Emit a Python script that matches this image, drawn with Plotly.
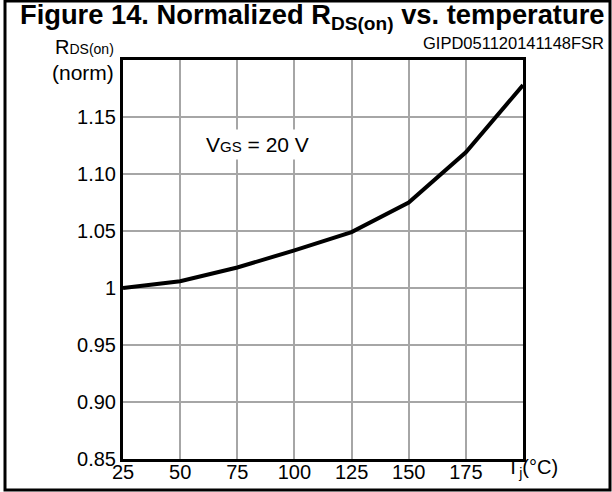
import plotly.graph_objects as go

# Data
temps = [25, 50, 75, 100, 125, 150, 175, 200]
rds_norm = [1.000, 1.006, 1.018, 1.033, 1.049, 1.075, 1.119, 1.178]

x_tick_vals = [25, 50, 75, 100, 125, 150, 175]
x_tick_text = ["25", "50", "75", "100", "125", "150", "175"]
y_tick_vals = [0.85, 0.90, 0.95, 1.00, 1.05, 1.10, 1.15]
y_tick_text = ["0.85", "0.90", "0.95", "1", "1.05", "1.10", "1.15"]

FONT = "Arial, Liberation Sans, Helvetica, sans-serif"

W, H = 612, 492
L, R, T, B = 123, 89, 60, 33
PW, PH = W - L - R, H - T - B


def px(x):
    return (x - L) / PW


def py(y):
    return (H - B - y) / PH


fig = go.Figure()
fig.add_trace(go.Scatter(
    x=temps, y=rds_norm, mode="lines",
    line=dict(color="black", width=4),
    hoverinfo="skip", showlegend=False,
))

fig.update_layout(
    width=W, height=H,
    margin=dict(l=L, r=R, t=T, b=B, autoexpand=False),
    paper_bgcolor="white", plot_bgcolor="white",
    font=dict(family=FONT, color="black", size=19),
    showlegend=False,
    xaxis=dict(
        range=[25, 200], tickvals=x_tick_vals, ticktext=x_tick_text,
        showgrid=True, gridcolor="#a6a6a6", gridwidth=2,
        showline=True, linecolor="black", linewidth=3, mirror=True,
        ticks="", zeroline=False, tickfont=dict(size=20), automargin=False,
        ticklabelstandoff=-7,
    ),
    yaxis=dict(
        range=[0.85, 1.20], tickvals=y_tick_vals, ticktext=y_tick_text,
        showgrid=True, gridcolor="#a6a6a6", gridwidth=2,
        showline=True, linecolor="black", linewidth=3, mirror=True,
        ticks="", zeroline=False, tickfont=dict(size=20), automargin=False,
    ),
)

annotations = [
    dict(text="<b>Figure 14. Normalized R<sub>DS(on)</sub> vs. temperature</b>",
         x=px(312), y=py(16), xref="paper", yref="paper",
         xanchor="center", yanchor="middle", showarrow=False,
         font=dict(size=27.3, family=FONT)),
    dict(text="GIPD051120141148FSR",
         x=px(606), y=py(43), xref="paper", yref="paper",
         xanchor="right", yanchor="middle", showarrow=False,
         font=dict(size=16.5, family=FONT)),
    dict(text="R<span style='font-size:14px'>DS(on)</span>",
         x=px(116), y=py(47), xref="paper", yref="paper",
         xanchor="right", yanchor="middle", showarrow=False,
         font=dict(size=20, family=FONT)),
    dict(text="(norm)",
         x=px(116), y=py(72), xref="paper", yref="paper",
         xanchor="right", yanchor="middle", showarrow=False,
         font=dict(size=21, family=FONT)),
    dict(text="T<sub>j</sub>(°C)",
         x=px(532), y=py(469), xref="paper", yref="paper",
         xanchor="center", yanchor="middle", showarrow=False,
         font=dict(size=20, family=FONT)),
    dict(text="V<span style='font-size:15px'>GS</span> = 20 V",
         x=84, y=1.126, xref="x", yref="y",
         xanchor="center", yanchor="middle", showarrow=False,
         bgcolor="white", borderpad=3,
         font=dict(size=21, family=FONT)),
]
fig.update_layout(annotations=annotations)

fig.add_shape(type="rect", xref="paper", yref="paper",
              x0=px(5), x1=px(610), y0=py(490), y1=py(1),
              line=dict(color="black", width=3), fillcolor="rgba(0,0,0,0)",
              layer="below")

fig.write_html("out.html", config={"displayModeBar": False},
               post_script="document.body.style.margin='0';"
                           "document.documentElement.style.overflow='hidden';"
                           "document.body.style.overflow='hidden';")
